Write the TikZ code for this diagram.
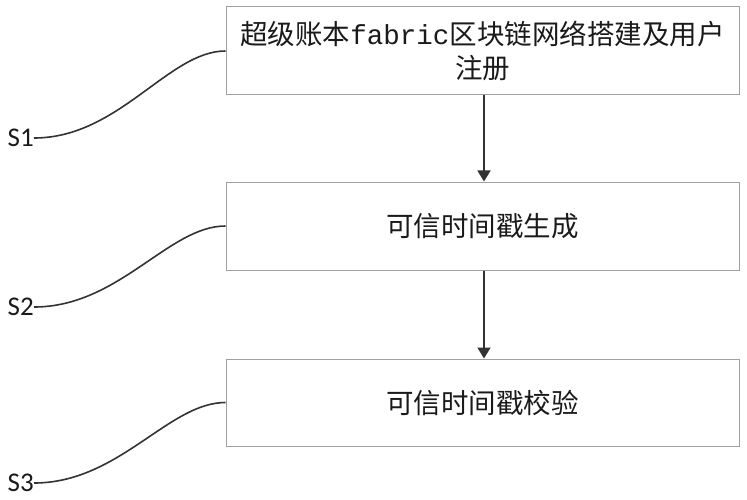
\documentclass[tikz,border=0pt]{standalone}
\usepackage{fontspec}
\setmainfont{Carlito}
\newfontfamily\cjk{Noto Sans CJK SC}
\newfontfamily\latmono{Liberation Mono}
\usetikzlibrary{arrows.meta}
\definecolor{boxgray}{HTML}{A0A0A0}
\definecolor{ink}{HTML}{333333}
\definecolor{txt}{HTML}{1A1A1A}
\tikzset{
  stepbox/.style={draw=boxgray, line width=1pt, rectangle, minimum width=513pt, inner sep=0pt,
    text=txt, font=\cjk\fontsize{27.5}{34}\selectfont, align=center},
  slabel/.style={inner sep=0pt, anchor=east, text=txt, font=\fontsize{27}{27}\selectfont},
  leader/.style={draw=ink, line width=1.6pt},
  flow/.style={draw=ink, line width=1.6pt, -{Triangle[width=13pt,length=11pt]}}
}
\begin{document}
\begin{tikzpicture}[x=1pt,y=-1pt]
\useasboundingbox (0,0) rectangle (747,500);
\node[stepbox, minimum height=88pt] (b1) at (482.5,51) {超级账本{\latmono fabric}区块链网络搭建及用户\\注册};
\node[stepbox, minimum height=88pt] (b2) at (482.5,226) {可信时间戳生成};
\node[stepbox, minimum height=87pt] (b3) at (482.5,402.5) {可信时间戳校验};
\node[slabel] (s1) at (34,138) {S1};
\node[slabel] (s2) at (34,307) {S2};
\node[slabel] (s3) at (34,483) {S3};
\draw[leader] (s1.east) .. controls +(85,0) and +(-57,0) .. (b1.west);
\draw[leader] (s2.east) .. controls +(85,0) and +(-57,0) .. (b2.west);
\draw[leader] (s3.east) .. controls +(85,0) and +(-57,0) .. (b3.west);
\draw[flow] (b1.south) ++(1.5,0) coordinate (a1) -- (a1 |- b2.north);
\draw[flow] (b2.south) ++(1.5,0) coordinate (a2) -- (a2 |- b3.north);
\end{tikzpicture}
\end{document}
